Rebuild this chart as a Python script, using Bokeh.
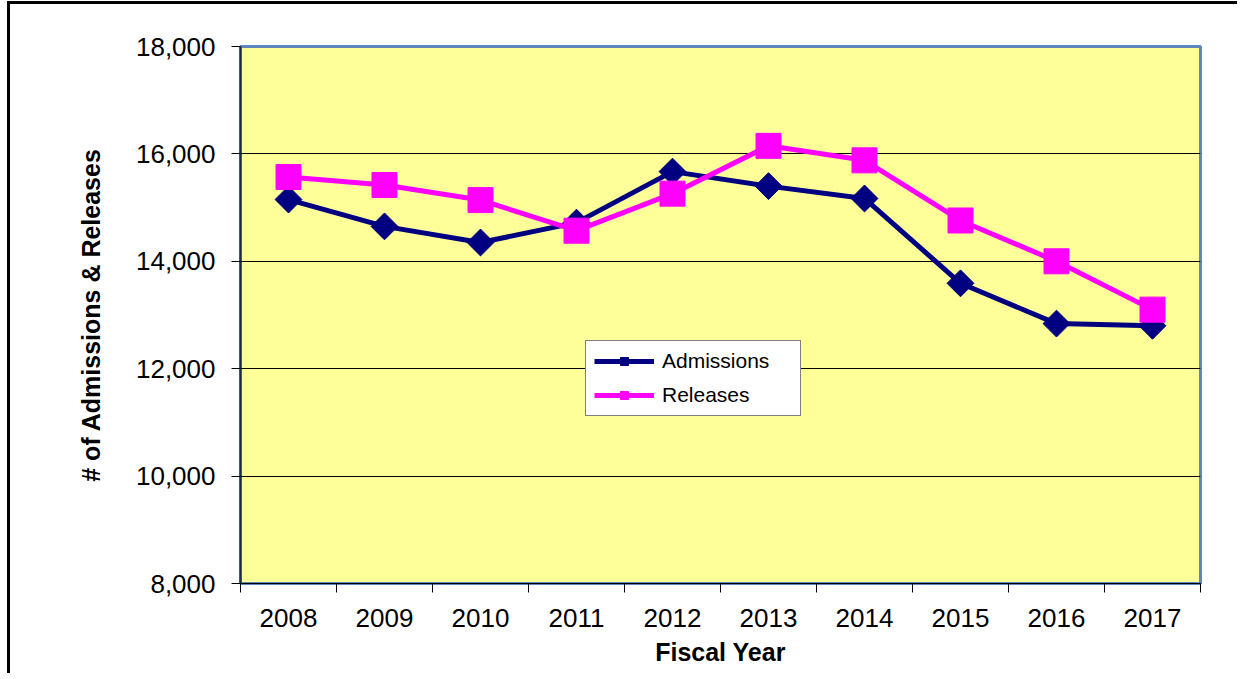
import math
from bokeh.plotting import figure
from bokeh.models import (Range1d, FixedTicker, NumeralTickFormatter, Legend, LegendItem,
                          ColumnDataSource)
from bokeh.embed import file_html
from bokeh.resources import INLINE

years = ["2008", "2009", "2010", "2011", "2012", "2013", "2014", "2015", "2016", "2017"]
admissions = [15150, 14650, 14350, 14720, 15670, 15400, 15170, 13590, 12840, 12800]
releases = [15570, 15420, 15140, 14570, 15260, 16150, 15880, 14760, 14000, 13100]
y_ticks = [8000, 10000, 12000, 14000, 16000, 18000]

xpos = [i + 0.5 for i in range(len(years))]
src = ColumnDataSource(dict(x=xpos, adm=admissions, rel=releases))

p = figure(width=1230, height=672, output_backend="svg", toolbar_location=None,
           x_range=Range1d(0, len(years)), y_range=Range1d(8000, 18000),
           min_border_left=230, min_border_right=40, min_border_top=42, min_border_bottom=93)
p.styles = {"border-left": "3px solid black", "border-top": "3px solid black",
            "margin-left": "7px", "margin-top": "1px"}

p.background_fill_color = "#FFFF99"
p.border_fill_color = "white"
p.outline_line_color = "#5F86BA"
p.outline_line_width = 3

# grid
p.xgrid.visible = False
p.ygrid.ticker = FixedTicker(ticks=y_ticks)
p.ygrid.grid_line_color = "black"
p.ygrid.grid_line_width = 1

# x axis
p.xaxis.ticker = FixedTicker(ticks=xpos, minor_ticks=list(range(len(years) + 1)))
p.xaxis.major_label_overrides = {x: y for x, y in zip(xpos, years)}
p.xaxis.major_tick_out = 0
p.xaxis.major_tick_in = 0
p.xaxis.minor_tick_out = 9
p.xaxis.minor_tick_in = 0
p.xaxis.minor_tick_line_color = "black"
p.xaxis.axis_line_color = "black"
p.xaxis.major_label_text_font = "Liberation Sans"
p.xaxis.major_label_text_font_size = "26px"
p.xaxis.major_label_text_color = "black"
p.xaxis.major_label_standoff = 16
p.xaxis.axis_label = "Fiscal Year"
p.xaxis.axis_label_text_font = "Liberation Sans"
p.xaxis.axis_label_text_font_style = "bold"
p.xaxis.axis_label_text_font_size = "25px"
p.xaxis.axis_label_text_color = "black"
p.xaxis.axis_label_standoff = 8

# y axis
p.yaxis.ticker = FixedTicker(ticks=y_ticks)
p.yaxis.formatter = NumeralTickFormatter(format="0,0")
p.yaxis.minor_tick_line_color = None
p.yaxis.major_tick_out = 9
p.yaxis.major_tick_in = 0
p.yaxis.major_tick_line_color = "black"
p.yaxis.axis_line_color = "#1F2A44"
p.yaxis.axis_line_width = 2
p.yaxis.major_label_text_font = "Liberation Sans"
p.yaxis.major_label_text_font_size = "26px"
p.yaxis.major_label_text_color = "black"
p.yaxis.major_label_standoff = 16
p.yaxis.axis_label = "# of Admissions & Releases"
p.yaxis.axis_label_text_font = "Liberation Sans"
p.yaxis.axis_label_text_font_style = "bold"
p.yaxis.axis_label_text_font_size = "25px"
p.yaxis.axis_label_text_color = "black"
p.yaxis.axis_label_standoff = 28

navy = "#000080"
pink = "#FF00FF"

l1 = p.line("x", "adm", source=src, line_color=navy, line_width=5)
m1 = p.scatter("x", "adm", source=src, marker="square", size=19, angle=math.pi / 4,
               fill_color=navy, line_color=navy)
l2 = p.line("x", "rel", source=src, line_color=pink, line_width=5)
m2 = p.scatter("x", "rel", source=src, marker="square", size=25,
               fill_color=pink, line_color=pink)

legend = Legend(items=[LegendItem(label="Admissions", renderers=[l1, m1]),
                       LegendItem(label="Releases", renderers=[l2, m2])],
                location=(345, 167))
legend.background_fill_color = "white"
legend.background_fill_alpha = 1
legend.border_line_color = "black"
legend.border_line_width = 1
legend.label_text_font = "Liberation Sans"
legend.label_text_font_size = "21px"
legend.label_text_color = "black"
legend.glyph_width = 60
legend.glyph_height = 20
legend.label_standoff = 8
legend.label_width = 130
legend.label_height = 20
legend.spacing = 10
legend.padding = 8
legend.margin = 0
p.add_layout(legend, "center")

open("out.html", "w").write(file_html(p, INLINE))
